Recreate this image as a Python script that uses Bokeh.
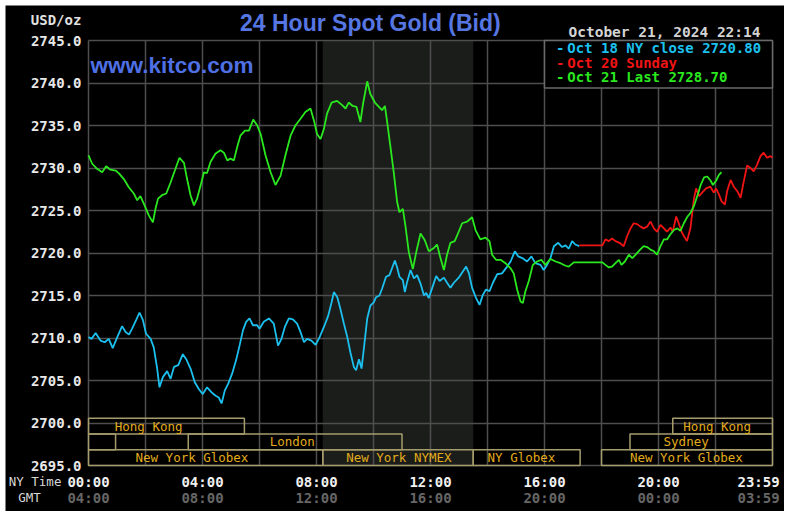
from bokeh.plotting import figure
from bokeh.models import (FixedTicker, PrintfTickFormatter, LinearAxis, Label,
                          ColumnDataSource, Range1d, Grid)
from bokeh.core.properties import value
from bokeh.embed import file_html
from bokeh.resources import INLINE

# ---------------- data ----------------
oct18_hours = [0, 0.11, 0.25, 0.42, 0.57, 0.71, 0.85, 1.01, 1.18, 1.30, 1.42, 1.53, 1.67, 1.79, 1.91,
               2.02, 2.18, 2.29, 2.41, 2.49, 2.61, 2.76, 2.88, 3.00, 3.15, 3.31, 3.43, 3.58, 3.73,
               3.87, 4.01, 4.16, 4.32, 4.46, 4.57, 4.67, 4.78, 4.90, 5.04, 5.18, 5.30, 5.42, 5.53,
               5.65, 5.77, 5.92, 6.00, 6.15, 6.33, 6.50, 6.58, 6.65, 6.77, 6.89, 7.03, 7.17, 7.32,
               7.44, 7.56, 7.67, 7.82, 7.97, 8.11, 8.26, 8.41, 8.53, 8.61, 8.73, 8.84, 8.96, 9.08,
               9.19, 9.31, 9.39, 9.49, 9.58, 9.66, 9.78, 9.89, 10.01, 10.09, 10.21, 10.30, 10.44,
               10.56, 10.66, 10.75, 10.83, 10.91, 11.03, 11.10, 11.18, 11.30, 11.42, 11.53, 11.65,
               11.77, 11.85, 11.94, 12.06, 12.20, 12.32, 12.47, 12.58, 12.70, 12.82, 12.99, 13.17,
               13.25, 13.35, 13.46, 13.60, 13.72, 13.84, 13.95, 14.07, 14.19, 14.34, 14.51, 14.69,
               14.81, 14.96, 15.08, 15.22, 15.39, 15.54, 15.68, 15.86, 15.97, 16.09, 16.21, 16.33,
               16.48, 16.62, 16.74, 16.85, 16.97, 17.08, 17.22]
oct18_prices = [2710.1, 2709.9, 2710.6, 2709.7, 2709.5, 2709.9, 2708.8, 2710.1, 2711.4, 2710.7, 2710.4,
                2711.1, 2712.1, 2713.0, 2712.1, 2710.5, 2709.9, 2708.9, 2706.4, 2704.2, 2705.4, 2706.1,
                2705.2, 2706.6, 2706.8, 2708.1, 2707.5, 2706.4, 2704.8, 2704.0, 2703.4, 2704.2, 2703.6,
                2703.2, 2703.0, 2702.3, 2703.8, 2704.6, 2705.8, 2707.4, 2709.1, 2710.9, 2711.9, 2712.3,
                2711.5, 2711.5, 2711.1, 2711.9, 2712.3, 2711.7, 2710.3, 2709.1, 2709.9, 2711.3, 2712.3,
                2712.2, 2711.7, 2710.7, 2709.5, 2709.9, 2709.7, 2709.2, 2710.1, 2711.3, 2712.6, 2714.2,
                2715.4, 2714.8, 2713.4, 2711.7, 2710.1, 2708.3, 2706.6, 2706.2, 2707.5, 2706.4, 2708.7,
                2712.3, 2713.8, 2714.2, 2714.8, 2715.0, 2715.8, 2717.2, 2717.4, 2718.3, 2719.1, 2718.3,
                2717.2, 2716.8, 2715.4, 2716.6, 2718.0, 2717.0, 2717.4, 2716.4, 2715.0, 2715.3, 2714.7,
                2715.9, 2717.3, 2716.7, 2717.1, 2716.5, 2715.9, 2716.5, 2717.1, 2718.0, 2718.4, 2717.6,
                2715.9, 2714.7, 2713.9, 2715.1, 2715.7, 2715.5, 2716.5, 2717.5, 2717.6, 2718.4, 2719.0,
                2720.2, 2719.6, 2719.4, 2719.0, 2719.6, 2718.8, 2718.6, 2718.0, 2718.6, 2719.4, 2720.8,
                2721.2, 2720.7, 2720.9, 2720.5, 2721.4, 2721.0, 2720.8]

oct20_hours = [17.22, 18.03, 18.14, 18.26, 18.37, 18.49, 18.63, 18.78, 18.90, 19.02, 19.13, 19.25,
               19.37, 19.48, 19.60, 19.72, 19.84, 19.95, 20.07, 20.19, 20.30, 20.42, 20.50, 20.62,
               20.71, 20.81, 20.89, 21.00, 21.12, 21.24, 21.32, 21.42, 21.53, 21.67, 21.82, 21.94,
               22.02, 22.12, 22.21, 22.33, 22.41, 22.53, 22.64, 22.76, 22.88, 22.99, 23.11, 23.23,
               23.34, 23.46, 23.58, 23.69, 23.81, 23.93, 24.0]
oct20_prices = [2720.9, 2720.9, 2721.6, 2721.4, 2721.7, 2721.4, 2721.2, 2720.8, 2722.0, 2722.9, 2723.5,
                2723.4, 2723.1, 2722.9, 2723.1, 2723.7, 2722.9, 2722.5, 2723.3, 2722.9, 2722.5, 2723.0,
                2722.5, 2724.3, 2723.5, 2722.5, 2722.0, 2721.4, 2722.9, 2726.3, 2727.6, 2726.7, 2727.1,
                2727.6, 2727.8, 2727.1, 2727.6, 2726.9, 2726.1, 2725.7, 2727.3, 2728.6, 2727.8, 2727.3,
                2726.5, 2728.4, 2730.3, 2730.0, 2729.6, 2730.4, 2731.4, 2731.8, 2731.2, 2731.4, 2731.2]

oct21_hours = [0, 0.13, 0.30, 0.48, 0.62, 0.77, 0.95, 1.06, 1.24, 1.42, 1.59, 1.71, 1.82, 1.94, 2.12,
               2.26, 2.35, 2.44, 2.58, 2.73, 2.88, 3.03, 3.19, 3.35, 3.46, 3.58, 3.70, 3.81, 3.93,
               4.05, 4.16, 4.28, 4.46, 4.63, 4.75, 4.87, 4.98, 5.10, 5.22, 5.33, 5.49, 5.63, 5.78,
               5.92, 6.04, 6.21, 6.39, 6.56, 6.74, 6.91, 7.09, 7.26, 7.44, 7.61, 7.79, 7.91, 8.02,
               8.14, 8.26, 8.37, 8.53, 8.72, 8.90, 9.02, 9.13, 9.27, 9.40, 9.54, 9.63, 9.78, 9.89,
               10.05, 10.19, 10.30, 10.40, 10.48, 10.59, 10.71, 10.83, 10.91, 11.03, 11.12, 11.24,
               11.38, 11.50, 11.65, 11.80, 11.94, 12.12, 12.23, 12.35, 12.47, 12.58, 12.70, 12.85,
               12.99, 13.11, 13.29, 13.46, 13.58, 13.75, 13.93, 14.07, 14.16, 14.30, 14.46, 14.63,
               14.81, 14.92, 15.04, 15.16, 15.24, 15.33, 15.45, 15.59, 15.74, 15.89, 16.03, 16.21,
               16.39, 16.56, 16.74, 16.85, 17.03, 17.20, 18.03, 18.14, 18.26, 18.37, 18.49, 18.61,
               18.70, 18.82, 18.96, 19.08, 19.20, 19.33, 19.48, 19.60, 19.72, 19.84, 19.95, 20.07,
               20.19, 20.30, 20.42, 20.54, 20.66, 20.77, 20.89, 21.00, 21.12, 21.24, 21.36, 21.48,
               21.60, 21.71, 21.83, 21.91, 22.02, 22.12, 22.21]
oct21_prices = [2731.5, 2730.5, 2729.9, 2729.5, 2730.2, 2729.8, 2729.7, 2729.4, 2728.7, 2727.7, 2727.0,
                2726.2, 2726.7, 2725.8, 2724.4, 2723.6, 2725.2, 2726.4, 2726.8, 2727.0, 2728.3, 2729.7,
                2731.2, 2730.6, 2728.7, 2726.8, 2725.6, 2726.4, 2727.9, 2729.5, 2729.4, 2730.7, 2731.7,
                2732.1, 2731.8, 2730.9, 2731.1, 2730.9, 2732.5, 2733.8, 2734.4, 2734.4, 2735.7, 2735.0,
                2734.0, 2731.5, 2729.5, 2728.0, 2729.1, 2731.5, 2733.8, 2735.0, 2735.8, 2736.6, 2737.0,
                2735.6, 2734.0, 2733.4, 2734.6, 2736.4, 2737.7, 2737.9, 2737.4, 2737.0, 2737.7, 2737.3,
                2737.2, 2735.4, 2737.5, 2740.2, 2738.7, 2737.7, 2737.2, 2736.8, 2737.3, 2735.4, 2732.6,
                2729.5, 2726.0, 2724.8, 2725.2, 2723.2, 2720.1, 2718.1, 2720.1, 2722.3, 2721.5, 2720.2,
                2720.6, 2721.0, 2719.4, 2718.0, 2719.8, 2721.2, 2721.4, 2722.5, 2723.5, 2723.7, 2724.2,
                2722.7, 2721.6, 2721.8, 2721.4, 2719.8, 2719.2, 2719.2, 2718.8, 2718.2, 2717.6, 2715.7,
                2714.3, 2714.1, 2715.5, 2716.7, 2718.6, 2719.0, 2719.2, 2718.6, 2719.3, 2719.0, 2718.8,
                2718.5, 2718.4, 2718.9, 2718.9, 2718.9, 2718.6, 2718.3, 2718.4, 2718.8, 2719.2, 2718.6,
                2719.0, 2719.8, 2719.4, 2719.8, 2720.3, 2720.8, 2720.7, 2720.4, 2720.2, 2719.8, 2720.8,
                2721.6, 2721.6, 2722.2, 2722.7, 2722.9, 2722.6, 2723.5, 2724.2, 2724.7, 2725.5, 2726.7,
                2728.0, 2728.9, 2729.0, 2728.5, 2728.0, 2728.5, 2729.2, 2729.5]

series_labels = ["Oct 18 NY close 2720.80", "Oct 20 Sunday", "Oct 21 Last 2728.70"]
series_colors = ["#1cc0ee", "#f01414", "#2ae81e"]

y_ticks = [2695, 2700, 2705, 2710, 2715, 2720, 2725, 2730, 2735, 2740, 2745]
x_ticks = [0, 4, 8, 12, 16, 20]
ny_time_labels = ["00:00", "04:00", "08:00", "12:00", "16:00", "20:00"]
gmt_labels = ["04:00", "08:00", "12:00", "16:00", "20:00", "00:00"]
end_ny_label = "23:59"
end_gmt_label = "03:59"
grid_hours = [0, 2, 4, 6, 8, 10, 12, 14, 16, 18, 20, 22, 24]

nymex_start, nymex_end = 8.22, 13.5

session_names = ["Hong Kong", "", "London", "New York Globex", "New York NYMEX", "NY Globex",
                 "New York Globex", "Sydney", "Hong Kong"]
session_start = [0, 0, 3.5, 0, 8.22, 13.5, 18.0, 19.0, 20.5]
session_end = [5.47, 0.95, 11.0, 8.22, 13.5, 17.25, 24.0, 24.0, 24.0]
session_row = [0, 1, 1, 2, 2, 2, 2, 1, 0]
session_label_x = [2.11, 0, 7.15, 3.63, 10.89, 15.19, 20.98, 20.97, 22.06]

# ---------------- layout constants ----------------
W, H = 779, 506              # canvas size (placed at page offset 5,5)
PLOT_LEFT, PLOT_TOP = 83, 35  # canvas px of hour 0 / price 2745
PX_PER_HOUR, PX_PER_USD = 28.5, 8.5
X0, X1 = 0, 24
Y0, Y1 = 2695, 2745
GREY = "#4e4e4e"
MONO = "DejaVu Sans Mono"
row_top = [2700.55, 2698.7, 2696.85]
row_bottom = [2698.7, 2696.85, 2695.0]

x_range = Range1d(X0 - PLOT_LEFT / PX_PER_HOUR, X0 + (W - PLOT_LEFT) / PX_PER_HOUR)
y_range = Range1d(Y1 - (H - PLOT_TOP) / PX_PER_USD, Y1 + PLOT_TOP / PX_PER_USD)

p = figure(width=W, height=H, output_backend="svg", toolbar_location=None,
           x_range=x_range, y_range=y_range, min_border=0,
           background_fill_color="black", border_fill_color="black",
           outline_line_color=None)
p.margin = (5, 0, 0, 5)

# grids restricted to the plotting area
p.xgrid.ticker = FixedTicker(ticks=grid_hours)
p.grid.grid_line_color = GREY
p.grid.grid_line_width = 1.5
if "cross_bounds" in Grid.properties():
    p.xgrid.cross_bounds = (Y0, Y1)
    p.ygrid.cross_bounds = (X0, X1)
else:
    p.grid.visible = False
    p.segment(x0=grid_hours, x1=grid_hours, y0=[Y0] * len(grid_hours), y1=[Y1] * len(grid_hours),
              line_color=GREY, line_width=1.5, level="underlay")
    p.segment(x0=[X0] * len(y_ticks), x1=[X1] * len(y_ticks), y0=y_ticks, y1=y_ticks,
              line_color=GREY, line_width=1.5, level="underlay")

# y axis
yax = p.yaxis[0]
yax.fixed_location = X0
yax.ticker = FixedTicker(ticks=y_ticks)
yax.formatter = PrintfTickFormatter(format="%.1f")
yax.axis_line_color = None
yax.major_tick_line_color = None
yax.minor_tick_line_color = None
yax.major_tick_out = 0
yax.major_tick_in = 0
yax.major_label_standoff = 7
yax.major_label_text_font = MONO
yax.major_label_text_font_style = "bold"
yax.major_label_text_font_size = "14px"
yax.major_label_text_color = "#e8e8e8"

# x axes (NY time, GMT)
xax = p.xaxis[0]
gmt_ax = LinearAxis()
p.add_layout(gmt_ax, "below")
for ax, labels, color, standoff in [(xax, ny_time_labels, "#f0f0f0", 8),
                                    (gmt_ax, gmt_labels, "#666666", 24)]:
    ax.fixed_location = Y0
    ax.ticker = FixedTicker(ticks=x_ticks)
    ax.major_label_overrides = {t: l for t, l in zip(x_ticks, labels)}
    ax.axis_line_color = None
    ax.major_tick_line_color = None
    ax.minor_tick_line_color = None
    ax.major_tick_out = 0
    ax.major_tick_in = 0
    ax.major_label_standoff = standoff
    ax.major_label_text_font = MONO
    ax.major_label_text_font_style = "bold"
    ax.major_label_text_font_size = "14px"
    ax.major_label_text_color = color

# NYMEX shading (below grid)
p.quad(left=[nymex_start], right=[nymex_end], bottom=[Y0], top=[Y1],
       fill_color="#1b1d1b", line_color=None, level="image")

# session boxes
sess = ColumnDataSource(dict(
    left=session_start, right=session_end,
    top=[row_top[r] for r in session_row], bottom=[row_bottom[r] for r in session_row],
    name=session_names, lx=session_label_x,
    ly=[(row_top[r] + row_bottom[r]) / 2 for r in session_row]))
p.quad(left="left", right="right", top="top", bottom="bottom", source=sess,
       fill_color=None, line_color="#a59c6c", line_width=1.5)
p.text(x="lx", y="ly", text="name", source=sess, text_font=value(MONO),
       text_font_size="12.5px", text_color="#e2ab1c", text_align="center",
       text_baseline="middle")

# price lines
for hrs, prices, col in [(oct18_hours, oct18_prices, series_colors[0]),
                         (oct20_hours, oct20_prices, series_colors[1]),
                         (oct21_hours, oct21_prices, series_colors[2])]:
    p.line(hrs, prices, line_color=col, line_width=1.8)

# legend box
p.quad(left=[16.0], right=[24.0], bottom=[2739.4], top=[Y1], fill_color="black",
       line_color="#6a6a6a", line_width=1.5)
leg = ColumnDataSource(dict(x=[16.4] * 3, dx=[16.8] * 3, y=[2744.15, 2742.4, 2740.65],
                            label=series_labels, color=series_colors, dash=["-"] * 3))
p.text(x="x", y="y", text="dash", source=leg, text_color="color", text_font=value(MONO),
       text_font_style=value("bold"), text_font_size="14px", text_baseline="middle")
p.text(x="dx", y="y", text="label", source=leg, text_color="color", text_font=value(MONO),
       text_font_style=value("bold"), text_font_size="14px", text_baseline="middle")

# texts
p.add_layout(Label(x=9.89, y=2747.1, text="24 Hour Spot Gold (Bid)", text_font="Liberation Sans",
                   text_font_size="23px", text_font_style="bold", text_color="#5676e2",
                   text_align="center", text_baseline="middle"))
p.add_layout(Label(x=0.07, y=2742.1, text="www.kitco.com", text_font="Liberation Sans",
                   text_font_size="22.5px", text_font_style="bold", text_color="#4e70e4",
                   text_align="left", text_baseline="middle"))
p.add_layout(Label(x=23.58, y=2746.05, text="October 21, 2024 22:14", text_font=MONO,
                   text_font_size="14.5px", text_font_style="bold", text_color="#d4d4d4",
                   text_align="right", text_baseline="middle"))
p.add_layout(Label(x=-0.25, y=2747.45, text="USD/oz", text_font=MONO, text_font_size="14px",
                   text_font_style="bold", text_color="#e0e0e0", text_align="right",
                   text_baseline="middle"))
p.add_layout(Label(x=-0.95, y=2693.1, text="NY Time", text_font=MONO, text_font_size="12.5px",
                   text_color="#d8d8d8", text_align="right", text_baseline="middle"))
p.add_layout(Label(x=-2.07, y=2691.2, text="GMT", text_font=MONO, text_font_size="12.5px",
                   text_color="#d8d8d8", text_align="center", text_baseline="middle"))
p.add_layout(Label(x=24.25, y=2693.1, text=end_ny_label, text_font=MONO, text_font_size="14px",
                   text_font_style="bold", text_color="#f0f0f0", text_align="right",
                   text_baseline="middle"))
p.add_layout(Label(x=24.25, y=2691.2, text=end_gmt_label, text_font=MONO, text_font_size="14px",
                   text_font_style="bold", text_color="#666666", text_align="right",
                   text_baseline="middle"))

open("out.html", "w").write(file_html(p, INLINE))
